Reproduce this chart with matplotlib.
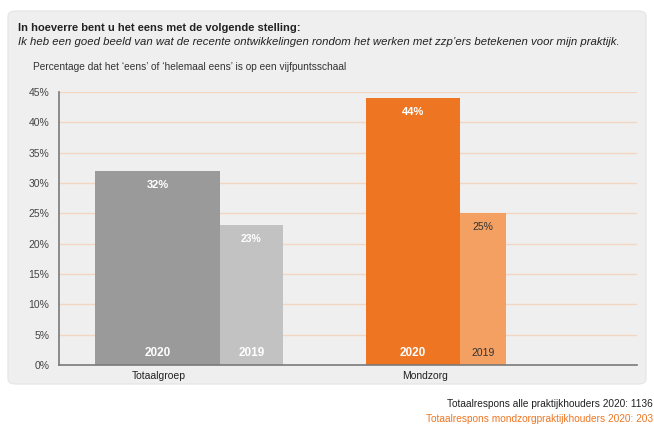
import matplotlib.pyplot as plt
from matplotlib.patches import FancyBboxPatch

# pyright: reportUnknownMemberType=false

categories = ["Totaalgroep", "Mondzorg"]
years = ["2020", "2019"]
values_2020 = [32, 44]
values_2019 = [23, 25]
yticks = [0, 5, 10, 15, 20, 25, 30, 35, 40, 45]

title_bold = "In hoeverre bent u het eens met de volgende stelling:"
title_italic = ("Ik heb een goed beeld van wat de recente ontwikkelingen rondom het "
                "werken met zzp\u2019ers betekenen voor mijn praktijk.")
subtitle = "Percentage dat het \u2018eens\u2019 of \u2018helemaal eens\u2019 is op een vijfpuntsschaal"
footer_total = "Totaalrespons alle praktijkhouders 2020: 1136"
footer_mond = "Totaalrespons mondzorgpraktijkhouders 2020: 203"

# layout (axis x units are pixels from the y axis)
bar_left = [36, 307]
width_2020 = [125, 94]
width_2019 = [63, 46]
label_x = [100, 366]
colours_2020 = ["#9a9a9a", "#ee7623"]
colours_2019 = ["#c2c2c2", "#f3a062"]
text_2019 = ["white", "#333333"]
weight_2019 = ["bold", "normal"]
size_2019 = [8.5, 7.5]

plt.rcParams["font.family"] = ["Liberation Sans", "DejaVu Sans"]

fig = plt.figure(figsize=(6.54, 4.25), dpi=100)
fig.patch.set_facecolor("white")

panel = FancyBboxPatch(
    (8 / 654, 1 - 384 / 425), 638 / 654, 373 / 425,
    boxstyle="round,pad=0,rounding_size=0.012",
    transform=fig.transFigure, facecolor="#efefef", edgecolor="#e4e4e4",
    linewidth=0.8, zorder=-1,
)
fig.patches.append(panel)

ax = fig.add_axes((59 / 654, 1 - 365 / 425, 578 / 654, 273 / 425))
ax.set_zorder(1)
ax.set_facecolor("none")
ax.set_xlim(0, 578)
ax.set_ylim(0, 45)

for y in yticks[1:]:
    ax.axhline(y, color="#f3d6c1", linewidth=1.0, zorder=1)

for i in range(len(categories)):
    x0 = bar_left[i]
    x1 = x0 + width_2020[i]
    ax.bar(x0, values_2020[i], width=width_2020[i], align="edge",
           color=colours_2020[i], zorder=2)
    ax.bar(x1, values_2019[i], width=width_2019[i], align="edge",
           color=colours_2019[i], zorder=2)

    cx0 = x0 + width_2020[i] / 2
    cx1 = x1 + width_2019[i] / 2
    ax.annotate(f"{values_2020[i]}%", (cx0, values_2020[i]), xytext=(0, -10),
                textcoords="offset points", ha="center", va="center",
                color="white", fontsize=8, fontweight="bold", zorder=3)
    ax.annotate(f"{values_2019[i]}%", (cx1, values_2019[i]), xytext=(0, -10),
                textcoords="offset points", ha="center", va="center",
                color=text_2019[i], fontsize=7.5, fontweight=weight_2019[i], zorder=3)
    ax.annotate(years[0], (cx0, 0), xytext=(0, 9), textcoords="offset points",
                ha="center", va="center", color="white", fontsize=8.5,
                fontweight="bold", zorder=3)
    ax.annotate(years[1], (cx1, 0), xytext=(0, 9), textcoords="offset points",
                ha="center", va="center", color=text_2019[i], fontsize=size_2019[i],
                fontweight=weight_2019[i], zorder=3)

ax.set_yticks(yticks)
ax.set_yticklabels([f"{v}%" for v in yticks], fontsize=7.5, color="#444444")
ax.set_xticks(label_x)
ax.set_xticklabels(categories, fontsize=7.5, color="#222222")
ax.tick_params(axis="both", length=0)
ax.tick_params(axis="y", pad=7)
ax.tick_params(axis="x", pad=4)

for side in ["top", "right"]:
    ax.spines[side].set_visible(False)
for side in ["left", "bottom"]:
    ax.spines[side].set_color("#7a7a7a")
    ax.spines[side].set_linewidth(1.2)
    ax.spines[side].set_zorder(4)

fig.text(18 / 654, 1 - 28 / 425, title_bold, fontsize=8, fontweight="bold",
         color="#222222", va="center")
fig.text(18 / 654, 1 - 42 / 425, title_italic, fontsize=8.2, style="italic",
         color="#222222", va="center")
fig.text(33 / 654, 1 - 67 / 425, subtitle, fontsize=7.3, color="#333333", va="center")

fig.text(653 / 654, 1 - 404 / 425, footer_total, fontsize=7.3, color="#222222",
         ha="right", va="center")
fig.text(653 / 654, 1 - 419 / 425, footer_mond, fontsize=7.3, color="#ee7623",
         ha="right", va="center")

plt.savefig("out.png", dpi=100)
